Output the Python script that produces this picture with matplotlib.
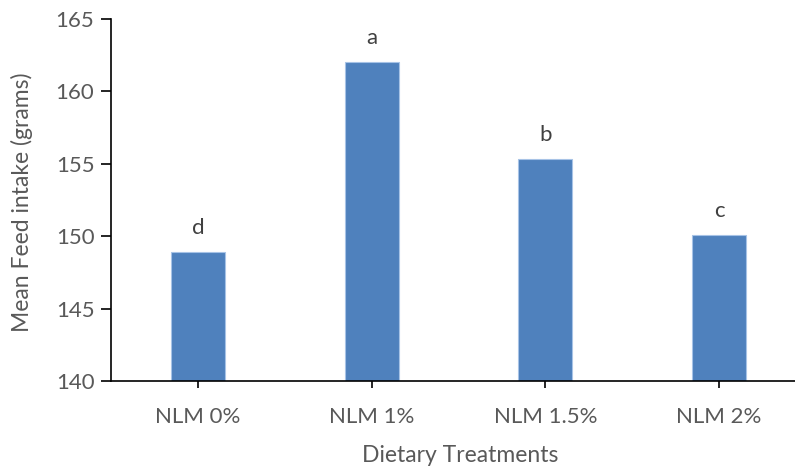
import matplotlib
matplotlib.use("Agg")
import matplotlib.pyplot as plt

categories = ["NLM 0%", "NLM 1%", "NLM 1.5%", "NLM 2%"]
values = [148.9, 162.0, 155.3, 150.05]
letters = ["d", "a", "b", "c"]
yticks = [140, 145, 150, 155, 160, 165]

plt.rcParams['font.family'] = ['Lato', 'DejaVu Sans']
gray = "#595959"

fig = plt.figure(figsize=(7.95, 4.70), dpi=100)
W, H = 795, 470
left, right, top, bottom = 111, 806, 19, 381
ax = fig.add_axes([left / W, 1 - bottom / H, (right - left) / W, (bottom - top) / H])

x = range(len(categories))
ax.bar(x, values, width=0.31, color="#4F81BD", edgecolor="#A7C3E6", linewidth=0.8, zorder=2)
for xi, v, t in zip(x, values, letters):
    ax.text(xi, v + 1.0, t, ha="center", va="bottom", fontsize=16, color="#404040")

ax.set_xlim(-0.5, 3.5)
ax.set_ylim(140, 165)
ax.set_yticks(yticks)
ax.set_xticks(list(x))
ax.set_xticklabels(categories)
for s in ["top", "right"]:
    ax.spines[s].set_visible(False)
for s in ["left", "bottom"]:
    ax.spines[s].set_color("black")
    ax.spines[s].set_linewidth(1.2)
ax.tick_params(axis="y", direction="out", length=7, width=1.2, color="black", labelsize=16, labelcolor=gray, pad=5)
ax.tick_params(axis="x", direction="out", length=5, width=1.2, color="black", labelsize=16, labelcolor=gray, pad=14)

fig.text(460 / W, 1 - 456 / H, "Dietary Treatments", ha="center", va="center", fontsize=16.5, color=gray)
fig.text(22 / W, 1 - 202 / H, "Mean Feed intake (grams)", ha="center", va="center", rotation=90, fontsize=16.5, color=gray)

fig.savefig("out.png", dpi=100)
